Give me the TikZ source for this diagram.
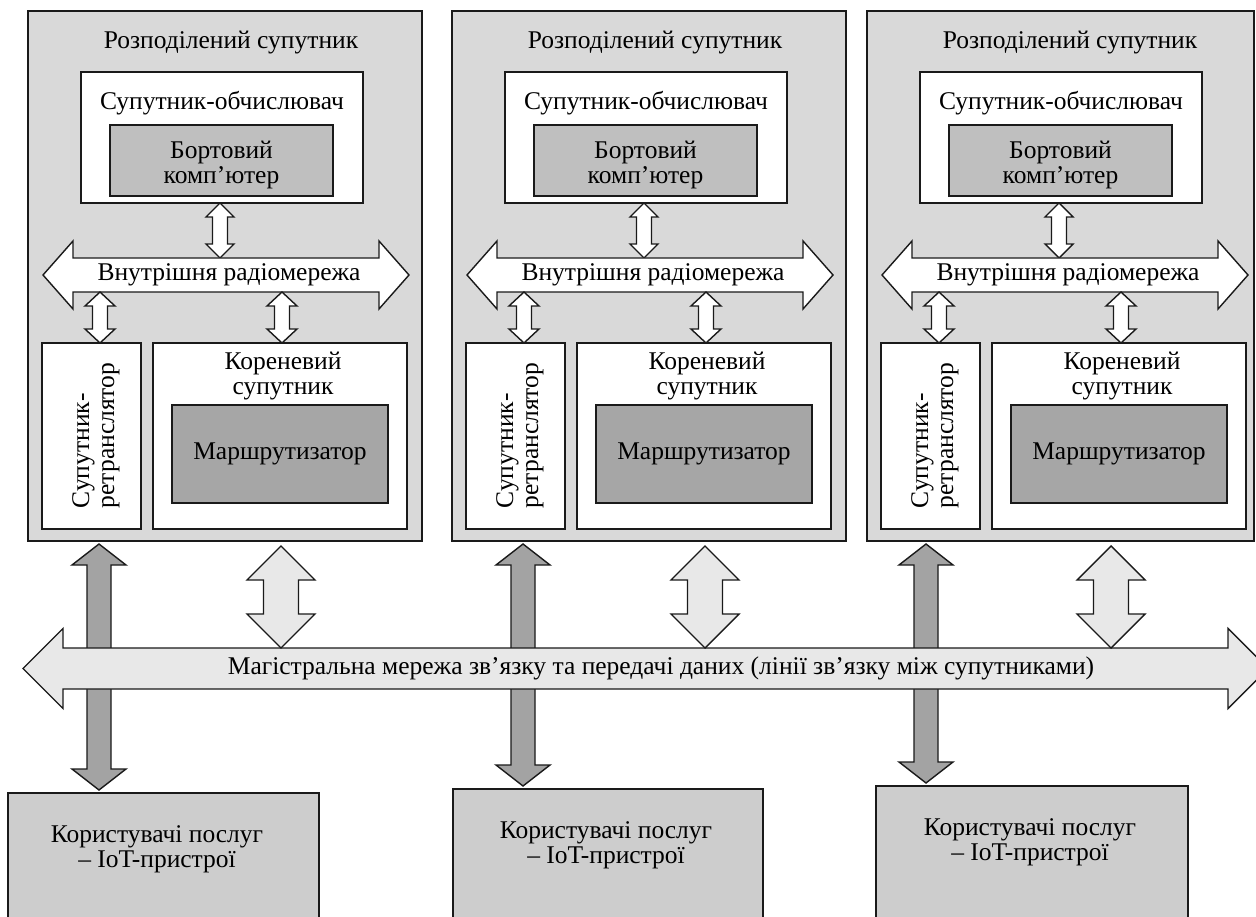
\documentclass[tikz,border=0pt]{standalone}
\usepackage{fontspec}
\setmainfont{Liberation Serif}

\definecolor{blockgray}{HTML}{D9D9D9}
\definecolor{pcgray}{HTML}{BFBFBF}
\definecolor{routergray}{HTML}{A6A6A6}
\definecolor{usergray}{HTML}{CDCDCD}
\definecolor{darkarrow}{HTML}{A3A3A3}
\definecolor{lightarrow}{HTML}{E8E8E8}
\definecolor{edge}{HTML}{1A1A1A}

% vertical double block arrow: x, y top tip, y bottom tip, body half width, head half width, head length, style
\newcommand\vdarr[7]{%
  \draw[#7] (#1,#2) -- ({#1+#5},{#2+#6}) -- ({#1+#4},{#2+#6}) -- ({#1+#4},{#3-#6})
    -- ({#1+#5},{#3-#6}) -- (#1,#3) -- ({#1-#5},{#3-#6}) -- ({#1-#4},{#3-#6})
    -- ({#1-#4},{#2+#6}) -- ({#1-#5},{#2+#6}) -- cycle;}
% horizontal double block arrow: y, x left tip, x right tip, body half height, head half height, head length, style
\newcommand\hdarr[7]{%
  \draw[#7] (#2,#1) -- ({#2+#6},{#1-#5}) -- ({#2+#6},{#1-#4}) -- ({#3-#6},{#1-#4})
    -- ({#3-#6},{#1-#5}) -- (#3,#1) -- ({#3-#6},{#1+#5}) -- ({#3-#6},{#1+#4})
    -- ({#2+#6},{#1+#4}) -- ({#2+#6},{#1+#5}) -- cycle;}

\tikzset{
  frame/.style={draw=edge, line width=1.4pt, line join=miter},
  lbl/.style={font=\fontsize{25.5}{25}\selectfont, inner sep=0pt, align=center},
}

\begin{document}
\begin{tikzpicture}[x=1pt, y=-1pt]
\clip (0,0) rectangle (1256,917);
\fill[white] (0,0) rectangle (1256,917);

% three distributed satellites
\foreach \i/\dx/\rr in {1/0/422, 2/424/422, 3/839/415} {
  \begin{scope}[xshift=\dx pt]
    \draw[frame, fill=blockgray] (28,11) rectangle (\rr,541);
    \node[lbl] (ttl\i) at (231,43) {Розподілений супутник};
    % computing satellite
    \draw[frame, fill=white] (81,72) rectangle (363,203);
    \node[lbl] (cmp\i) at (222,103) {Супутник-обчислювач};
    \draw[frame, fill=pcgray] (110,125) rectangle (333,196);
    \node[lbl] (pc\i) at (221.5,164.5) {Бортовий\\комп’ютер};
    % internal radio network and its links
    \vdarr{220}{203}{258}{7.5}{14}{14}{frame, fill=white}
    \hdarr{275}{43}{409}{17}{34}{30}{frame, fill=white}
    \node[lbl] (net\i) at (229,275) {Внутрішня радіомережа};
    \vdarr{100}{292}{343}{7.5}{15}{14}{frame, fill=white}
    \vdarr{282}{292}{343}{7.5}{15}{14}{frame, fill=white}
    % relay satellite
    \draw[frame, fill=white] (42,343) rectangle (141,529);
    \node[lbl, rotate=90, align=left] (rel\i) at (96,435.5) {Супутник-\\ретранслятор};
    % root satellite
    \draw[frame, fill=white] (153,343) rectangle (407,529);
    \node[lbl] (root\i) at (283,376.5) {Кореневий\\супутник};
    \draw[frame, fill=routergray] (172,405) rectangle (388,503);
    \node[lbl] (rt\i) at (280,454) {Маршрутизатор};
  \end{scope}
}

% links between relay satellites and users
\vdarr{99}{544}{790}{12}{27}{21}{frame, fill=darkarrow}
\vdarr{523}{544}{786}{12}{27}{21}{frame, fill=darkarrow}
\vdarr{926}{544}{783}{12}{27}{21}{frame, fill=darkarrow}

% backbone network
\hdarr{668.5}{23}{1268}{20.5}{40}{40}{frame, fill=lightarrow}
\node[lbl] (bb) at (661,668.5) {Магістральна мережа зв’язку та передачі даних (лінії зв’язку між супутниками)};

% links between root satellites and the backbone
\vdarr{281}{546}{648}{17.5}{34}{34}{frame, fill=lightarrow}
\vdarr{705}{546}{648}{17.5}{34}{34}{frame, fill=lightarrow}
\vdarr{1111}{546}{648}{17.5}{34}{34}{frame, fill=lightarrow}

% service users
\draw[frame, fill=usergray] (8,793) rectangle (319,930);
\node[lbl] (usr1) at (157,849) {Користувачі послуг\\– IoT-пристрої};
\draw[frame, fill=usergray] (453,789) rectangle (763,930);
\node[lbl] (usr2) at (606,845) {Користувачі послуг\\– IoT-пристрої};
\draw[frame, fill=usergray] (876,786) rectangle (1188,930);
\node[lbl] (usr3) at (1030,842) {Користувачі послуг\\– IoT-пристрої};
\end{tikzpicture}
\end{document}
